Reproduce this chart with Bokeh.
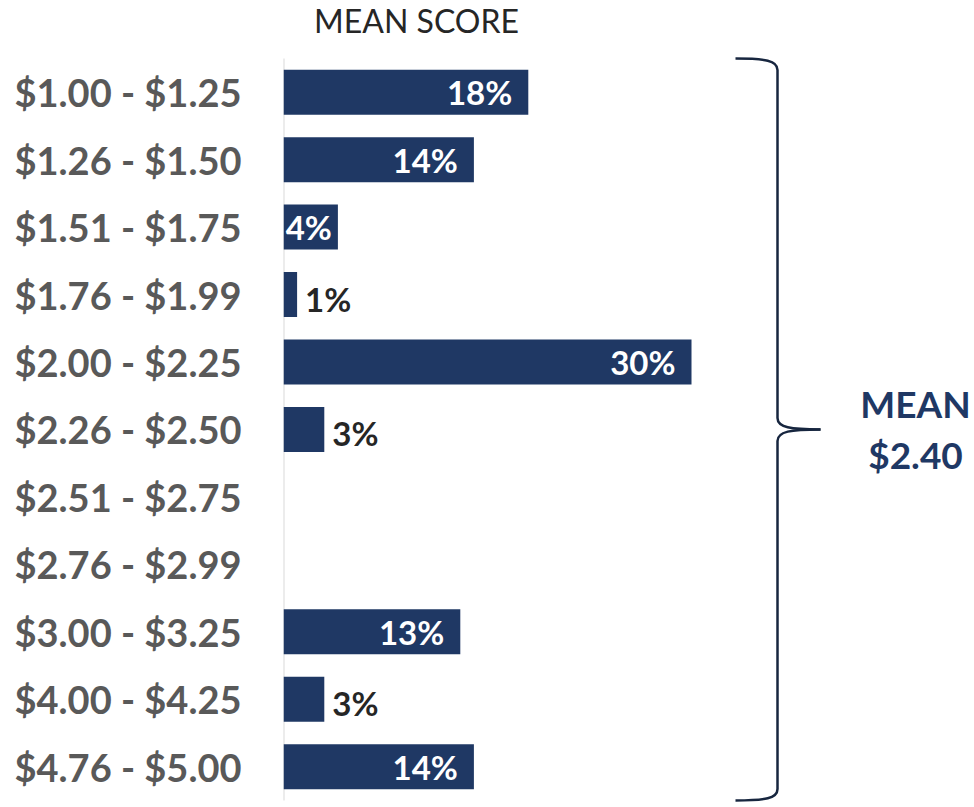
from bokeh.plotting import figure
from bokeh.models import Range1d, FixedTicker, ColumnDataSource
from bokeh.core.properties import value
from bokeh.embed import file_html
from bokeh.resources import INLINE

# ---- data ----
categories = ["$1.00 - $1.25", "$1.26 - $1.50", "$1.51 - $1.75", "$1.76 - $1.99",
              "$2.00 - $2.25", "$2.26 - $2.50", "$2.51 - $2.75", "$2.76 - $2.99",
              "$3.00 - $3.25", "$4.00 - $4.25", "$4.76 - $5.00"]
percent = [18, 14, 4, 1, 30, 3, 0, 0, 13, 3, 14]
title_text = "MEAN SCORE"
mean_lines = ["MEAN", "$2.40"]
mean_row = 5  # row the brace points to ($2.26 - $2.50 holds $2.40)

# ---- layout constants ----
W, H = 974, 807
left_px = 283
px_per_pct = 13.6
row_px = 67.45
first_row_px = 91.7

n = len(categories)
rows = list(range(n))
x_end = (W - left_px) / px_per_pct
y_top = -first_row_px / row_px
y_bottom = (H - first_row_px) / row_px

def px_x(px):
    return (px - left_px) / px_per_pct

def px_y(py):
    return (py - first_row_px) / row_px

BAR = "#1F3864"
FONT = value("Lato")

p = figure(width=W, height=H, output_backend="svg", toolbar_location=None,
           x_range=Range1d(0, x_end), y_range=Range1d(y_bottom, y_top),
           min_border_left=left_px, min_border_right=0, min_border_top=0,
           min_border_bottom=0, x_axis_location="below")
p.xaxis.visible = False
p.xgrid.visible = False
p.ygrid.visible = False
p.outline_line_color = None
p.background_fill_color = "white"
p.border_fill_color = "white"

yax = p.yaxis[0]
yax.ticker = FixedTicker(ticks=rows)
yax.major_label_overrides = {i: c for i, c in enumerate(categories)}
yax.axis_line_color = None
yax.major_tick_line_color = None
yax.minor_tick_line_color = None
yax.major_label_standoff = 36
yax.major_label_text_font = "Lato"
yax.major_label_text_font_style = "bold"
yax.major_label_text_font_size = "38px"
yax.major_label_text_color = "#595959"

# gray baseline
p.segment(x0=[0], y0=[-0.5], x1=[0], y1=[n - 0.5], line_color="#D9D9D9", line_width=2)

# bars
src = ColumnDataSource(dict(row=rows, pct=percent))
p.hbar(y="row", left=0, right="pct", height=0.667, source=src,
       fill_color=BAR, line_color=None)

# value labels
in_x, in_y, in_t, in_off = [], [], [], []
out_x, out_y, out_t = [], [], []
for r, v in zip(rows, percent):
    if v <= 0:
        continue
    if v >= 4:
        in_x.append(v); in_y.append(r); in_t.append(f"{v}%")
        in_off.append(-16 if v >= 10 else -6)
    else:
        out_x.append(v); out_y.append(r); out_t.append(f"{v}%")

p.text(x="x", y="y", text="t", x_offset="o",
       source=ColumnDataSource(dict(x=in_x, y=in_y, t=in_t, o=in_off)),
       text_align="right", text_baseline="middle", text_color="white",
       text_font=FONT, text_font_style="bold", text_font_size="33px")
p.text(x="x", y="y", text="t", x_offset=8, y_offset=4,
       source=ColumnDataSource(dict(x=out_x, y=out_y, t=out_t)),
       text_align="left", text_baseline="middle", text_color="#262626",
       text_font=FONT, text_font_style="bold", text_font_size="33px")

# title
p.text(x=[px_x(416)], y=[px_y(20)], text=[title_text], text_align="center",
       text_baseline="middle", text_color="#262626", text_font=FONT,
       text_font_size="32px")

# brace
bx = px_x(777)
bl = px_x(735)
btip = px_x(820)
b1 = px_x(765)
b2 = px_x(790)
ytop = -0.5
ybot = n - 0.5
ym = mean_row
d = 0.17
col = "#17263F"
lw = 2.5
p.bezier(x0=[bl, bx, btip, bx], y0=[ytop, ym - d, ym, ybot - d],
         x1=[bx, btip, bx, bl], y1=[ytop + d, ym, ym + d, ybot],
         cx0=[b1, bx, b2, bx], cy0=[ytop, ym - 0.03, ym, ybot - 0.03],
         cx1=[bx, b2, bx, b1], cy1=[ytop + 0.03, ym, ym + 0.03, ybot],
         line_color=col, line_width=lw)
p.segment(x0=[bx, bx], y0=[ytop + d, ym + d], x1=[bx, bx], y1=[ym - d, ybot - d],
          line_color=col, line_width=lw)

# mean annotation
p.text(x=[px_x(915)] * 2, y=[ym - 0.38, ym + 0.37], text=mean_lines,
       text_align="center", text_baseline="middle", text_color=BAR,
       text_font=FONT, text_font_style="bold", text_font_size="37px")

open("out.html", "w").write(file_html(p, INLINE))
